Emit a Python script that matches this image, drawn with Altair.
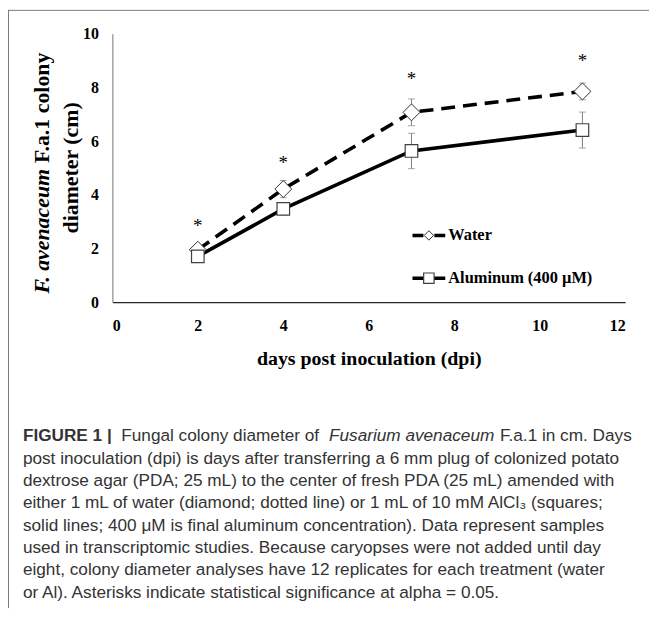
import altair as alt
import pandas as pd

# ---------------- data ----------------
dpi = [2, 4, 7, 11]
water_mean = [1.95, 4.21, 7.07, 7.85]
water_err = [0.12, 0.32, 0.50, 0.31]
al_mean = [1.70, 3.47, 5.63, 6.41]
al_err = [0.10, 0.22, 0.66, 0.67]
star_y = [2.93, 5.30, 8.44, 9.10]

x_ticks = [0, 2, 4, 6, 8, 10, 12]
y_ticks = [0, 2, 4, 6, 8, 10]
series_names = ["Water", "Aluminum (400 µM)"]

x_title = "days post inoculation (dpi)"
y_title_italic = "F. avenaceum"
y_title_rest = "F.a.1 colony"
y_title_line2 = "diameter (cm)"

cap_bold = "FIGURE 1 |"
cap_l1a = "Fungal colony diameter of"
cap_l1_italic = "Fusarium avenaceum"
cap_l1b = "F.a.1 in cm. Days"
caption_body = [
    "post inoculation (dpi) is days after transferring a 6 mm plug of colonized potato",
    "dextrose agar (PDA; 25 mL) to the center of fresh PDA (25 mL) amended with",
    "either 1 mL of water (diamond; dotted line) or 1 mL of 10 mM AlCl\u2083 (squares;",
    "solid lines; 400 \u03bcM is final aluminum concentration). Data represent samples",
    "used in transcriptomic studies. Because caryopses were not added until day",
    "eight, colony diameter analyses have 12 replicates for each treatment (water",
    "or Al). Asterisks indicate statistical significance at alpha = 0.05.",
]

# ---------------- tables ----------------
water = pd.DataFrame({"dpi": dpi, "mean": water_mean,
                      "lo": [m - e for m, e in zip(water_mean, water_err)],
                      "hi": [m + e for m, e in zip(water_mean, water_err)]})
al = pd.DataFrame({"dpi": dpi, "mean": al_mean,
                   "lo": [m - e for m, e in zip(al_mean, al_err)],
                   "hi": [m + e for m, e in zip(al_mean, al_err)]})
bars = pd.concat([water, al], ignore_index=True)
caps = pd.concat([bars[["dpi", "lo"]].rename(columns={"lo": "v"}),
                  bars[["dpi", "hi"]].rename(columns={"hi": "v"})], ignore_index=True)
stars = pd.DataFrame({"dpi": dpi, "star": star_y})
one = pd.DataFrame({"k": [0]})

SERIF = "Liberation Serif"
SANS = "Liberation Sans"

xs = alt.Scale(domain=[0, 12], nice=False)
ys = alt.Scale(domain=[0, 10], nice=False)
x_axis = alt.Axis(values=x_ticks, title=x_title, grid=False, ticks=False,
                  domainColor="#262626", domainWidth=1.2, labelPadding=16,
                  titlePadding=15)
y_axis = alt.Axis(values=y_ticks, title=None, grid=False, ticks=False,
                  domainColor="#8c8c8c", domainWidth=1.2, labelPadding=14)


def X(field="dpi"):
    return alt.X(f"{field}:Q", scale=xs, axis=x_axis)


def Y(field):
    return alt.Y(f"{field}:Q", scale=ys, axis=y_axis)


water_line = alt.Chart(water).mark_line(color="black", strokeWidth=3.6,
                                         strokeDash=[14, 8]).encode(x=X(), y=Y("mean"))
al_line = alt.Chart(al).mark_line(color="black", strokeWidth=3.6).encode(x=X(), y=Y("mean"))

err_rule = alt.Chart(bars).mark_rule(color="#808080", strokeWidth=1).encode(
    x=X(), y=Y("lo"), y2="hi")
err_cap = alt.Chart(caps).mark_tick(color="#808080", orient="horizontal", size=7,
                                    thickness=1).encode(x=X(), y=Y("v"))

water_pts = alt.Chart(water).mark_point(shape="diamond", filled=True, fill="white",
                                        stroke="#303030", strokeWidth=1, size=289,
                                        opacity=1).encode(x=X(), y=Y("mean"))
al_pts = alt.Chart(al).mark_point(shape="square", filled=True, fill="white",
                                  stroke="#404040", strokeWidth=1.2, size=160,
                                  opacity=1).encode(x=X(), y=Y("mean"))

star_txt = alt.Chart(stars).mark_text(text="*", font=SERIF, fontSize=19, color="black",
                                      baseline="middle", dy=3).encode(x=X(), y=Y("star"))

# ---------------- legend (drawn inside the plot) ----------------
leg_w_line = alt.Chart(one).mark_rule(color="black", strokeWidth=3.6, strokeDash=[11, 11]).encode(
    x=alt.value(302), x2=alt.value(335), y=alt.value(203))
leg_w_pt = alt.Chart(one).mark_point(shape="diamond", filled=True, fill="white",
                                     stroke="#303030", strokeWidth=1, size=90,
                                     opacity=1).encode(x=alt.value(318.5), y=alt.value(203))
leg_a_line = alt.Chart(one).mark_rule(color="black", strokeWidth=3.6).encode(
    x=alt.value(302), x2=alt.value(335), y=alt.value(246))
leg_a_pt = alt.Chart(one).mark_point(shape="square", filled=True, fill="white",
                                     stroke="#404040", strokeWidth=1.2, size=110,
                                     opacity=1).encode(x=alt.value(318.5), y=alt.value(246))
leg_text_style = dict(align="left", baseline="middle", font=SERIF, fontWeight="bold",
                      fontSize=16.5, color="black")
leg_w_txt = alt.Chart(one).mark_text(**leg_text_style).encode(
    x=alt.value(338), y=alt.value(203), text=alt.value(series_names[0]))
leg_a_txt = alt.Chart(one).mark_text(**leg_text_style).encode(
    x=alt.value(338), y=alt.value(246), text=alt.value(series_names[1]))

# ---------------- y title (two rotated lines, mixed italic) ----------------
yt_style = dict(angle=270, baseline="middle", font=SERIF, fontWeight="bold",
                fontSize=22, color="black")
yt1a = alt.Chart(one).mark_text(align="right", fontStyle="italic", **yt_style).encode(
    x=alt.value(-71), y=alt.value(136), text=alt.value(y_title_italic))
yt1b = alt.Chart(one).mark_text(align="left", **yt_style).encode(
    x=alt.value(-71), y=alt.value(130), text=alt.value(y_title_rest))
yt2 = alt.Chart(one).mark_text(align="center", **yt_style).encode(
    x=alt.value(-42), y=alt.value(135), text=alt.value(y_title_line2))

# ---------------- caption ----------------
cap_style = dict(align="left", baseline="alphabetic", font=SANS, fontSize=17.3,
                 color="#333333")
c_bold = alt.Chart(one).mark_text(fontWeight="bold", **cap_style).encode(
    x=alt.value(-90), y=alt.value(410), text=alt.value(cap_bold))
c_1a = alt.Chart(one).mark_text(**cap_style).encode(
    x=alt.value(9), y=alt.value(410), text=alt.value(cap_l1a))
c_1i = alt.Chart(one).mark_text(fontStyle="italic", **cap_style).encode(
    x=alt.value(218), y=alt.value(410), text=alt.value(cap_l1_italic))
c_1b = alt.Chart(one).mark_text(**cap_style).encode(
    x=alt.value(390), y=alt.value(410), text=alt.value(cap_l1b))
c_body = alt.Chart(one).mark_text(lineHeight=22.5, **cap_style).encode(
    x=alt.value(-90), y=alt.value(432.5), text=alt.value(caption_body))

# ---------------- frame ----------------
frame_top = alt.Chart(one).mark_rule(color="#7a7a7a", strokeWidth=1).encode(
    x=alt.value(-105), x2=alt.value(540), y=alt.value(-23.5))
frame_left = alt.Chart(one).mark_rule(color="#7a7a7a", strokeWidth=1).encode(
    x=alt.value(-104.5), y=alt.value(-24), y2=alt.value(578))

chart = alt.layer(
    water_line, al_line, err_rule, err_cap, water_pts, al_pts, star_txt,
    leg_w_line, leg_w_pt, leg_a_line, leg_a_pt, leg_w_txt, leg_a_txt,
    yt1a, yt1b, yt2, c_bold, c_1a, c_1i, c_1b, c_body, frame_top, frame_left,
).properties(
    width=516, height=270,
    autosize=alt.AutoSizeParams(type="none"),
    padding={"left": 105, "top": 24, "right": 24, "bottom": 308},
).configure_view(stroke=None).configure_axis(
    labelFont=SERIF, labelFontWeight="bold", labelFontSize=16, labelColor="black",
    titleFont=SERIF, titleFontWeight="bold", titleFontSize=20, titleColor="black",
)

chart.save("out.html", embed_options={"renderer": "svg", "actions": False})
